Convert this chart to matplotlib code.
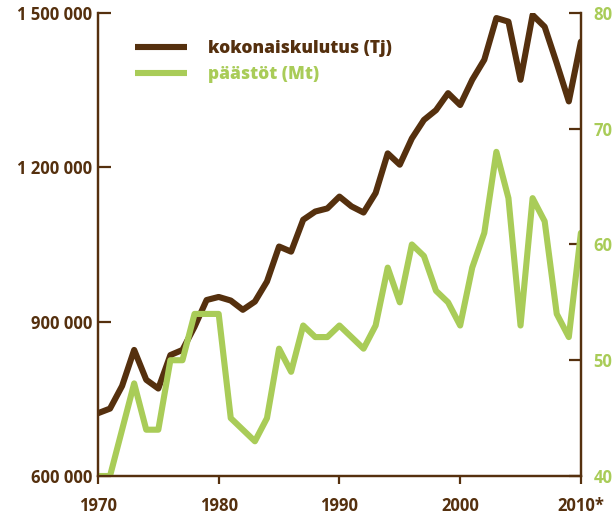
import numpy as np
import matplotlib
matplotlib.use("Agg")
import matplotlib.pyplot as plt
from matplotlib.ticker import FuncFormatter

#---------------------FONT and colours------------------------
plt.rcParams['font.family'] = ['Open Sans', 'DejaVu Sans']
plt.rcParams['font.weight'] = 'bold'
BROWN = '#55300e'
GREEN = '#a9cc58'

#---------------------DATA------------------------
years = list(range(1970, 2011))
kulutus = [722000, 731000, 775000, 845000, 787000, 770000, 835000, 845000, 890000, 942000,
           948000, 941000, 923000, 939000, 978000, 1046000, 1036000, 1098000, 1114000, 1120000,
           1143000, 1124000, 1112000, 1150000, 1227000, 1205000, 1256000, 1292000, 1311000, 1344000,
           1321000, 1370000, 1409000, 1490000, 1483000, 1370000, 1496000, 1473000, 1402000, 1328000,
           1444000]
paastot = [40, 40, 44, 48, 44, 44, 50, 50, 54, 54,
           54, 45, 44, 43, 45, 51, 49, 53, 52, 52,
           53, 52, 51, 53, 58, 55, 60, 59, 56, 55,
           53, 58, 61, 68, 64, 53, 64, 62, 54, 52,
           61]
xticks = [1970, 1980, 1990, 2000, 2010]
xlabels = ['1970', '1980', '1990', '2000', '2010*']
lticks = [600000, 900000, 1200000, 1500000]
rticks = [40, 50, 60, 70, 80]

#------------Figure Layout--------------
fig = plt.figure(figsize=(6.16, 5.16), dpi=100)
ax = fig.add_axes([0.159, 0.0775, 0.784, 0.8975])
bx = ax.twinx()

ax.plot(years, kulutus, color=BROWN, linewidth=4.4, solid_joinstyle='round',
        solid_capstyle='round', label='kokonaiskulutus (Tj)')
bx.plot(years, paastot, color=GREEN, linewidth=4.4, solid_joinstyle='round',
        solid_capstyle='round', label='päästöt (Mt)')

ax.set_xlim(1970, 2010)
ax.set_ylim(600000, 1500000)
bx.set_ylim(40, 80)

ax.set_xticks(xticks)
ax.set_xticklabels(xlabels)
ax.set_yticks(lticks)
ax.yaxis.set_major_formatter(FuncFormatter(lambda v, p: '{:,}'.format(int(v)).replace(',', ' ')))
bx.set_yticks(rticks)

for a in (ax, bx):
    a.spines['top'].set_visible(False)
    for s in ('left', 'right', 'bottom'):
        a.spines[s].set_color(BROWN)
        a.spines[s].set_linewidth(1.6)

ax.tick_params(axis='y', direction='in', length=9, width=1.6, color=BROWN,
               labelcolor=BROWN, labelsize=12, pad=4)
bx.tick_params(axis='y', direction='in', length=9, width=1.6, color=BROWN,
               labelcolor=GREEN, labelsize=12, pad=9)
ax.tick_params(axis='x', direction='out', length=6, width=1.6, color=BROWN,
               labelcolor=BROWN, labelsize=12, pad=9)

#-------------------------LEGEND
h1, l1 = ax.get_legend_handles_labels()
h2, l2 = bx.get_legend_handles_labels()
leg = bx.legend(h1 + h2, l1 + l2, loc='upper left', bbox_to_anchor=(0.045, 0.975),
                frameon=False, handlelength=3.0, handletextpad=1.2, labelspacing=0.5,
                prop={'size': 12.5, 'weight': 'heavy'})
for t, c in zip(leg.get_texts(), (BROWN, GREEN)):
    t.set_color(c)
for line in leg.get_lines():
    line.set_solid_capstyle('butt')

#SAVING
fig.savefig("out.png", dpi=100)
